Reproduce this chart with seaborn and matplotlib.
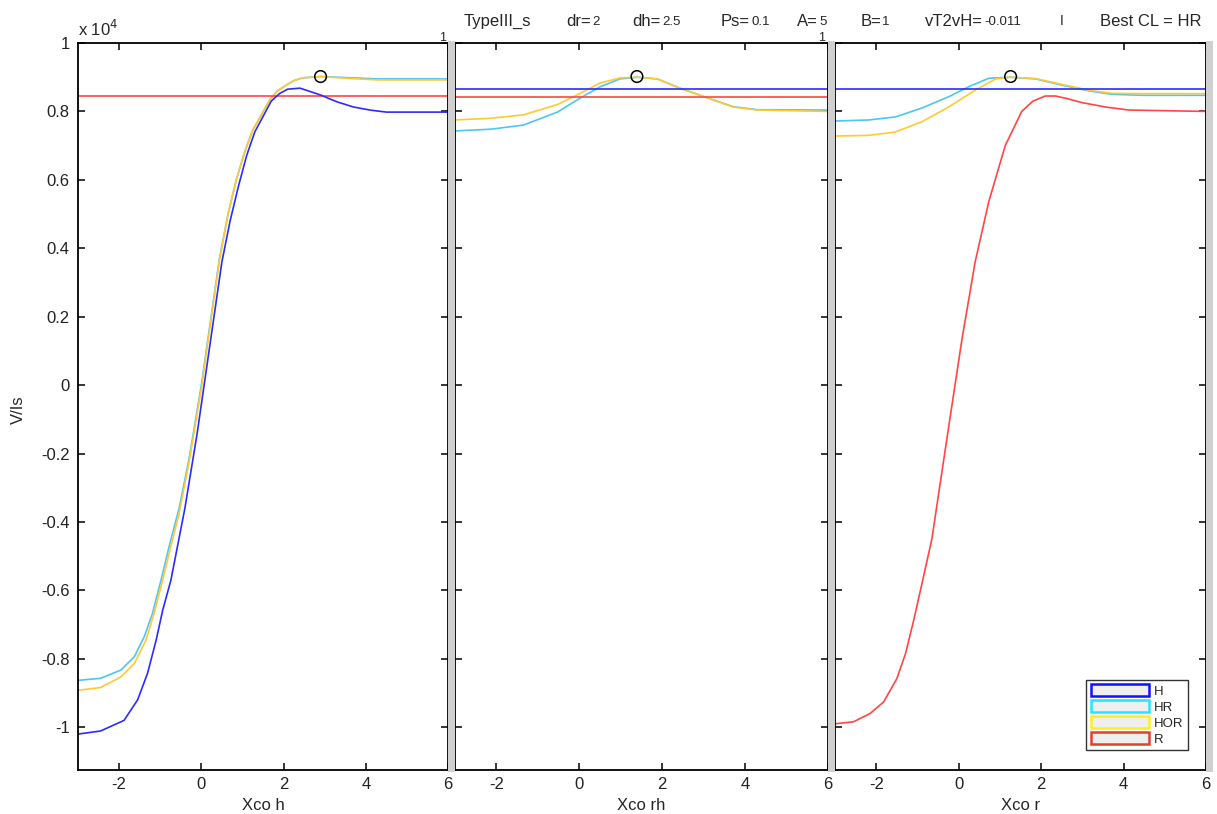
import numpy as np
import pandas as pd
import matplotlib
matplotlib.use("Agg")
import matplotlib.pyplot as plt
from matplotlib.patches import Patch, Rectangle
from matplotlib.ticker import FixedLocator, FuncFormatter
import seaborn as sns

# ---------------- data (values in units of 1e4) ----------------
# Panel 1: Xco h
h_H_x = [-3, -2.45, -1.88, -1.55, -1.31, -1.1, -0.94, -0.74, -0.4, -0.1, 0.2, 0.5, 0.7, 0.9, 1.1, 1.3, 1.7, 1.9, 2.1, 2.4, 2.9, 3.3, 3.7, 4.1, 4.5, 6]
h_H_y = [-1.02, -1.011, -0.98, -0.92, -0.843, -0.746, -0.658, -0.57, -0.36, -0.14, 0.11, 0.36, 0.48, 0.58, 0.67, 0.74, 0.83, 0.852, 0.865, 0.868, 0.848, 0.828, 0.813, 0.804, 0.798, 0.798]
h_HR_x = [-3, -2.45, -1.96, -1.63, -1.39, -1.19, -0.98, -0.78, -0.54, -0.29, 0.0, 0.44, 0.65, 0.85, 1.05, 1.25, 1.66, 1.85, 2.07, 2.25, 2.46, 2.9, 3.5, 4.3, 6]
h_HR_y = [-0.863, -0.857, -0.833, -0.794, -0.736, -0.668, -0.57, -0.47, -0.36, -0.21, 0.0, 0.37, 0.50, 0.60, 0.68, 0.745, 0.833, 0.86, 0.877, 0.89, 0.898, 0.902, 0.899, 0.895, 0.895]
h_HOR_x = [-3, -2.45, -1.96, -1.63, -1.35, -1.15, -0.94, -0.78, -0.54, -0.29, 0.0, 0.44, 0.65, 0.85, 1.05, 1.25, 1.66, 1.85, 2.07, 2.25, 2.46, 2.9, 3.5, 4.3, 6]
h_HOR_y = [-0.892, -0.884, -0.853, -0.814, -0.746, -0.668, -0.57, -0.49, -0.375, -0.22, -0.01, 0.365, 0.50, 0.60, 0.68, 0.745, 0.833, 0.86, 0.877, 0.89, 0.898, 0.902, 0.897, 0.892, 0.892]
h_R_x = [-3, 6]
h_R_y = [0.845, 0.845]
h_best = (2.9, 0.902)

# Panel 2: Xco rh
rh_H_x = [-3, 6]
rh_H_y = [0.865, 0.865]
rh_R_x = [-3, 6]
rh_R_y = [0.843, 0.843]
rh_HR_x = [-3, -2.14, -1.35, -0.53, 0.02, 0.5, 0.98, 1.4, 1.88, 2.43, 3.08, 3.71, 4.29, 6]
rh_HR_y = [0.743, 0.748, 0.76, 0.798, 0.839, 0.872, 0.895, 0.90, 0.895, 0.868, 0.84, 0.814, 0.805, 0.804]
rh_HOR_x = [-3, -2.14, -1.35, -0.53, 0.02, 0.5, 0.98, 1.4, 1.88, 2.43, 3.08, 3.71, 4.29, 6]
rh_HOR_y = [0.775, 0.78, 0.79, 0.82, 0.853, 0.883, 0.898, 0.90, 0.895, 0.868, 0.84, 0.813, 0.804, 0.80]
rh_best = (1.39, 0.902)

# Panel 3: Xco r
r_H_x = [-3, 6]
r_H_y = [0.865, 0.865]
r_HR_x = [-3, -2.18, -1.53, -0.89, -0.24, 0.24, 0.73, 1.26, 1.87, 2.5, 3.16, 3.71, 4.5, 6]
r_HR_y = [0.772, 0.775, 0.784, 0.81, 0.843, 0.872, 0.897, 0.90, 0.895, 0.877, 0.86, 0.85, 0.847, 0.847]
r_HOR_x = [-3, -2.18, -1.53, -0.89, -0.24, 0.4, 0.9, 1.26, 1.87, 2.5, 3.16, 3.71, 4.5, 6]
r_HOR_y = [0.728, 0.73, 0.74, 0.77, 0.813, 0.862, 0.895, 0.90, 0.896, 0.879, 0.862, 0.853, 0.852, 0.852]
r_R_x = [-3, -2.55, -2.15, -1.82, -1.5, -1.29, -1.09, -0.89, -0.65, -0.24, 0.08, 0.4, 0.73, 1.13, 1.53, 1.8, 2.1, 2.35, 2.65, 2.98, 3.56, 4.13, 6]
r_R_y = [-0.99, -0.984, -0.96, -0.926, -0.858, -0.785, -0.687, -0.58, -0.45, -0.12, 0.134, 0.36, 0.536, 0.70, 0.80, 0.83, 0.845, 0.845, 0.837, 0.826, 0.813, 0.804, 0.80]
r_best = (1.26, 0.902)

series_names = ["H", "HR", "HOR", "R"]
x_labels = ["Xco h", "Xco rh", "Xco r"]
x_ticks = [-2, 0, 2, 4, 6]
y_ticks = [-1, -0.8, -0.6, -0.4, -0.2, 0, 0.2, 0.4, 0.6, 0.8, 1]
header_items = [("TypeIII_s", ""), ("dr=", "2"), ("dh=", "2.5"), ("Ps=", "0.1"), ("A=", "5"),
                ("B=", "1"), ("vT2vH=", "-0.011"), ("I", ""), ("Best CL = HR", "")]

# ---------------- style ----------------
line_colors = {"H": "#2b2bff", "HR": "#4cc6f5", "HOR": "#ffc933", "R": "#ff4545"}
legend_edges = {"H": "#1010ff", "HR": "#22e6ff", "HOR": "#ffee22", "R": "#e04030"}

sns.set_theme(style="white")
plt.rcParams["font.family"] = ["Liberation Sans", "DejaVu Sans"]
plt.rcParams["axes.unicode_minus"] = False

W, H = 1217, 814
fig = plt.figure(figsize=(W / 100, H / 100), dpi=100)
fig.patch.set_facecolor("white")

def fx(px):
    return px / W

def fy(py):
    return 1 - py / H

panels_px = [(78, 448), (455, 828), (835, 1206)]
top_px, bot_px = 43, 770

# gray separators
for xa, xb in [(448, 455), (828, 835), (1206, 1213)]:
    fig.patches.append(Rectangle((fx(xa), fy(bot_px + 2)), fx(xb - xa), fy(top_px - 2) - fy(bot_px + 2),
                                 transform=fig.transFigure, facecolor="#d0d0d0", edgecolor="none", zorder=0))

panel_data = [
    {"H": (h_H_x, h_H_y), "HR": (h_HR_x, h_HR_y), "HOR": (h_HOR_x, h_HOR_y), "R": (h_R_x, h_R_y), "best": h_best},
    {"H": (rh_H_x, rh_H_y), "HR": (rh_HR_x, rh_HR_y), "HOR": (rh_HOR_x, rh_HOR_y), "R": (rh_R_x, rh_R_y), "best": rh_best},
    {"H": (r_H_x, r_H_y), "HR": (r_HR_x, r_HR_y), "HOR": (r_HOR_x, r_HOR_y), "R": (r_R_x, r_R_y), "best": r_best},
]

axes = []
for i, ((xa, xb), pdata) in enumerate(zip(panels_px, panel_data)):
    ax = fig.add_axes([fx(xa), fy(bot_px), fx(xb - xa), fy(top_px) - fy(bot_px)])
    ax.set_facecolor("white")
    for name in ["HR", "HOR", "R", "H"]:
        xs, ys = pdata[name]
        df = pd.DataFrame({"x": xs, "y": ys})
        sns.lineplot(data=df, x="x", y="y", ax=ax, color=line_colors[name], lw=1.2,
                     estimator=None, sort=False, legend=False)
    bx, by = pdata["best"]
    ax.scatter([bx], [by], s=70, facecolors="none", edgecolors="black", linewidths=1.1, zorder=5)
    ax.set_xlim(-3, 6)
    ax.set_ylim(-1.125, 1.0)
    ax.xaxis.set_major_locator(FixedLocator(x_ticks))
    ax.yaxis.set_major_locator(FixedLocator(y_ticks))
    ax.yaxis.set_major_formatter(FuncFormatter(lambda v, p: ("%g" % round(v, 2))))
    ax.tick_params(direction="in", length=5, width=1.1, top=True, right=True, bottom=True, left=True,
                   labelsize=12, colors="black", pad=6)
    ax.tick_params(axis="y", labelcolor="#222222")
    ax.tick_params(axis="x", labelcolor="#222222", pad=5)
    if i > 0:
        ax.tick_params(labelleft=False)
    for sp in ax.spines.values():
        sp.set_visible(True)
        sp.set_color("black")
        sp.set_linewidth(1.3)
    ax.set_xlabel(x_labels[i], fontsize=12, labelpad=4)
    ax.set_ylabel("")
    axes.append(ax)

# y label and exponent
fig.text(fx(18), fy(410), "V/Is", rotation=90, fontsize=12, ha="center", va="center")
fig.text(fx(78), fy(29), r"x 10$^4$", fontsize=12, ha="left", va="center")

# small "1" labels at top right corners
for px in (443, 822):
    fig.text(fx(px), fy(38), "1", fontsize=9, ha="center", va="center")

# legend
handles = [Patch(facecolor="#efefef", edgecolor=legend_edges[n], linewidth=1.8, label=n) for n in series_names]
leg = axes[2].legend(handles=handles, loc="lower right", bbox_to_anchor=(0.952, 0.027), borderaxespad=0,
                     fontsize=9.5, handlelength=4.4, handleheight=1.0, handletextpad=0.4, labelspacing=0.2,
                     frameon=True, fancybox=False, borderpad=0.35)
leg.get_frame().set_edgecolor("black")
leg.get_frame().set_linewidth(1.0)

# header text
header_pos = [464, 591, 661, 750, 818, 881, 983, 1062, 1100]
for (lab, val), px in zip(header_items, header_pos):
    if val:
        fig.text(fx(px), fy(21), lab, fontsize=12, ha="right", va="center")
        fig.text(fx(px + 1), fy(22), val, fontsize=9.5, ha="left", va="center")
    elif lab == "I":
        fig.text(fx(px), fy(21), lab, fontsize=10, ha="center", va="center")
    else:
        fig.text(fx(px), fy(21), lab, fontsize=12, ha="left", va="center")

fig.savefig("out.png", dpi=100, facecolor="white")
